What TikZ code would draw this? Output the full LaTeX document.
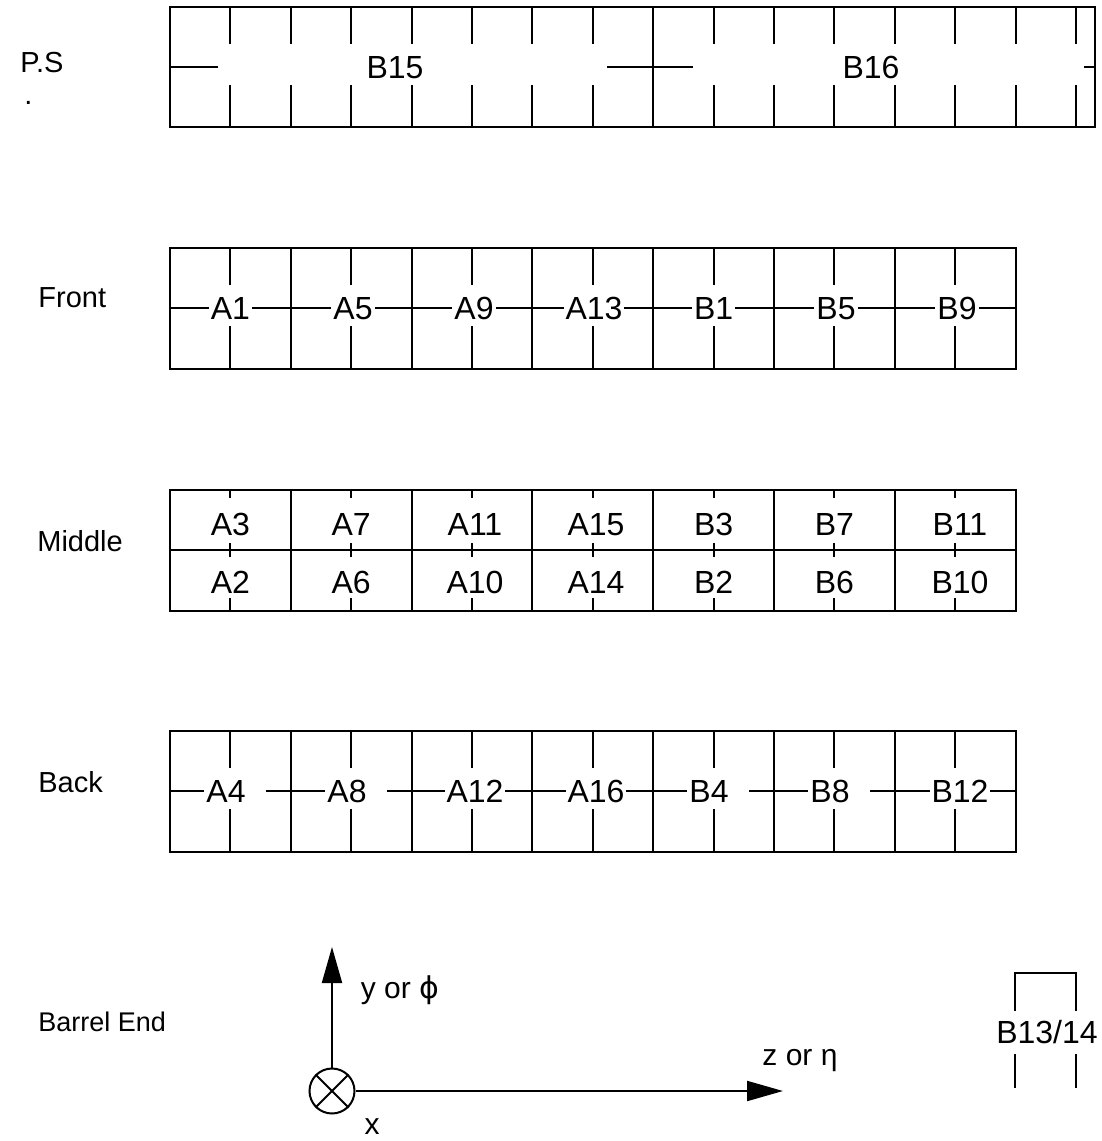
\documentclass[tikz,border=0pt]{standalone}
\usepackage{fontspec}
\setmainfont{Liberation Sans}
\newfontfamily\symfont{DejaVu Sans}
\usetikzlibrary{arrows.meta}
\tikzset{
  frame/.style={line width=1pt},
  rowname/.style={anchor=west, inner sep=0pt, font=\fontsize{14.5}{17}\selectfont},
  cell/.style={fill=white, inner xsep=1pt, inner ysep=0pt, text height=11.5pt, text depth=0pt, font=\fontsize{16}{19}\selectfont},
  plain/.style={inner sep=0pt, text height=11.5pt, text depth=0pt, font=\fontsize{16}{19}\selectfont},
  axlbl/.style={inner sep=0pt, font=\fontsize{15}{18}\selectfont},
  axis/.style={line width=1pt, -{Triangle[length=18pt,width=10pt]}}
}
\begin{document}
\begin{tikzpicture}[x=0.5pt, y=-0.5pt]
\useasboundingbox (0,0) rectangle (1102,1141);
% row names
\node[rowname] (nPS) at (20,63){P.S};
\node[rowname] (nDot) at (24,103){.};
\node[rowname] (nFront) at (38,298){Front};
\node[rowname] (nMiddle) at (37,541){Middle};
\node[rowname] (nBack) at (38,782){Back};
\node[rowname, font=\fontsize{13.5}{16}\selectfont] (nBarrel) at (38,1022){Barrel End};
% P.S
\draw[frame] (170,7) rectangle (1095,127);
\draw[frame] (653.2,7) -- (653.2,127);
\foreach \x in {230.4,290.8,351.2,411.6,472,532.4,592.8,713.6,774,834.4,894.8,955.2,1015.6,1076}{
  \draw[frame] (\x,7) -- (\x,44);
  \draw[frame] (\x,85) -- (\x,127);
}
\draw[frame] (170,67) -- (218,67);
\draw[frame] (607,67) -- (693,67);
\draw[frame] (1084,67) -- (1095,67);
\node[plain] (pB15) at (395,67){B15};
\node[plain] (pB16) at (871,67){B16};
% Front
\draw[frame] (170,248) rectangle (1015.6,369);
\draw[frame] (170,308) -- (1015.6,308);
\foreach \x in {291,411.6,532.4,653.2,774,894.8}
  \draw[frame] (\x,248) -- (\x,369);
\foreach \x in {230.4,351.2,472,592.8,713.6,834.4,955.2}{
  \draw[frame] (\x,248) -- (\x,285);
  \draw[frame] (\x,326) -- (\x,369);
}
\node[cell] (fA1) at (230.4,308){A1};
\node[cell] (fA5) at (353,308){A5};
\node[cell] (fA9) at (474,308){A9};
\node[cell] (fA13) at (594,308){A13};
\node[cell] (fB1) at (713.6,308){B1};
\node[cell] (fB5) at (836,308){B5};
\node[cell] (fB9) at (957,308){B9};
% Middle
\draw[frame] (170,490) rectangle (1015.6,611);
\draw[frame] (170,550) -- (1015.6,550);
\foreach \x in {291,411.6,532.4,653.2,774,894.8}
  \draw[frame] (\x,490) -- (\x,611);
\foreach \x in {230.4,351.2,472,592.8,713.6,834.4,955.2}{
  \draw[frame] (\x,490) -- (\x,498);
  \draw[frame] (\x,543) -- (\x,557);
  \draw[frame] (\x,598) -- (\x,611);
}
\node[plain] (mA3) at (230.4,524){A3};
\node[plain] (mA7) at (351.2,524){A7};
\node[plain] (mA11) at (475,524){A11};
\node[plain] (mA15) at (596,524){A15};
\node[plain] (mB3) at (713.6,524){B3};
\node[plain] (mB7) at (834.4,524){B7};
\node[plain] (mB11) at (960,524){B11};
\node[plain] (mA2) at (230.4,582){A2};
\node[plain] (mA6) at (351.2,582){A6};
\node[plain] (mA10) at (475,582){A10};
\node[plain] (mA14) at (596,582){A14};
\node[plain] (mB2) at (713.6,582){B2};
\node[plain] (mB6) at (834.4,582){B6};
\node[plain] (mB10) at (960,582){B10};
% Back
\draw[frame] (170,731) rectangle (1015.6,852);
\draw[frame] (170,791) -- (1015.6,791);
\foreach \x in {291,411.6,532.4,653.2,774,894.8}
  \draw[frame] (\x,731) -- (\x,852);
\foreach \x in {230.4,351.2,472,592.8,713.6,834.4,955.2}{
  \draw[frame] (\x,731) -- (\x,768);
  \draw[frame] (\x,809) -- (\x,852);
}
\node[cell] (bA4) at (235,791){A4\kern9pt};
\node[cell] (bA8) at (356,791){A8\kern9pt};
\node[cell] (bA12) at (475,791){A12};
\node[cell] (bA16) at (596,791){A16};
\node[cell] (bB4) at (718,791){B4\kern9pt};
\node[cell] (bB8) at (839,791){B8\kern9pt};
\node[cell] (bB12) at (960,791){B12};
% axes
\node[circle, draw, line width=1pt, minimum size=22.5pt, inner sep=0pt] (origin) at (332,1091){};
\draw[line width=1pt] (origin.45) -- (origin.225);
\draw[line width=1pt] (origin.135) -- (origin.315);
\coordinate (yTip) at (332,947);
\coordinate (zTip) at (783,1091);
\draw[axis] (origin.north) -- (yTip);
\draw[axis] (origin.east) -- (zTip);
\node[axlbl] (yLbl) at (400,990){y or {\symfont ϕ}};
\node[axlbl] (zLbl) at (800,1061){z or η};
\node[axlbl] (xLbl) at (372,1127){x};
% barrel end module
\draw[frame] (1015,1088) -- (1015,973) -- (1076,973) -- (1076,1088);
\node[plain, fill=white, inner ysep=5pt] (eB13) at (1047,1032){B13/14};
\end{tikzpicture}
\end{document}
